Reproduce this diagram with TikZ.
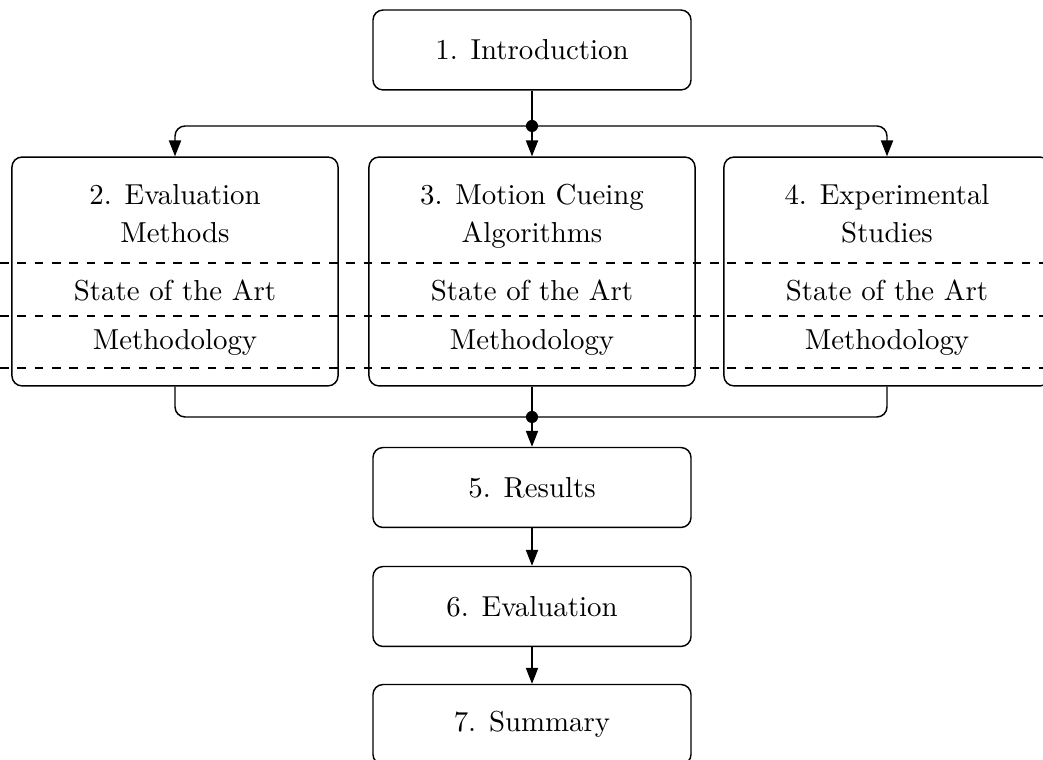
\documentclass[tikz,border=0pt]{standalone}
\usetikzlibrary{arrows.meta}
\newcommand{\twolines}[2]{\renewcommand{\arraystretch}{1.07}%
  \begin{tabular}[t]{@{}c@{}}#1\\#2\end{tabular}}
\begin{document}
\begin{tikzpicture}[
  x=0.3465pt, y=-0.3465pt,
  line width=0.5pt,
  chapter/.style={draw, rounded corners=3.5pt, minimum width=110.2pt,
    minimum height=27.7pt, inner sep=0pt},
  bigchapter/.style={draw, rounded corners=3.5pt, minimum width=113pt,
    minimum height=79.3pt, inner sep=0pt},
  part/.style={anchor=base, inner sep=0pt},
  flow/.style={-{Triangle[length=5.5pt,width=4.2pt]}},
  junction/.style={fill, circle, minimum size=4.2pt, inner sep=0pt},
  separator/.style={dashed, line width=0.4pt},
]
\clip (0,0) rectangle (1043,760);

% chapter boxes
\node[chapter] (b1) at (532,50) {1. Introduction};
\node[bigchapter] (b2) at (175,271.5) {};
\node[bigchapter] (b3) at (532,271.5) {};
\node[bigchapter] (b4) at (887,271.5) {};
\node[chapter] (b5) at (532,487.5) {5. Results};
\node[chapter] (b6) at (532,606.5) {6. Evaluation};
\node[chapter] (b7) at (532,724.5) {7. Summary};

% titles and sections of the three middle chapters
\node[part] (t2) at (175,205) {\twolines{2. Evaluation}{Methods}};
\node[part] (t3) at (532,205) {\twolines{3. Motion Cueing}{Algorithms}};
\node[part] (t4) at (887,205) {\twolines{4. Experimental}{Studies}};
\foreach \n/\x in {2/175, 3/532, 4/887} {
  \node[part] (s\n) at (\x,301) {State of the Art};
  \node[part] (m\n) at (\x,350) {Methodology};
}

% section separators
\foreach \y in {263, 316, 368}
  \draw[separator] (0,\y) -- (1043,\y);

% branch from the introduction
\coordinate (ju) at (532,126);
\draw (b1.south) -- (ju);
\draw[flow, rounded corners=3.5pt] (ju) -| (b2.north);
\draw[flow, rounded corners=3.5pt] (ju) -| (b4.north);
\draw[flow] (ju) -- (b3.north);
\node[junction] (dju) at (ju) {};

% merge into the results
\coordinate (jl) at (532,417);
\draw[rounded corners=3.5pt] (b2.south) |- (jl) -| (b4.south);
\draw[flow] (b3.south) -- (b5.north);
\node[junction] (djl) at (jl) {};

\draw[flow] (b5) -- (b6);
\draw[flow] (b6) -- (b7);
\end{tikzpicture}
\end{document}
